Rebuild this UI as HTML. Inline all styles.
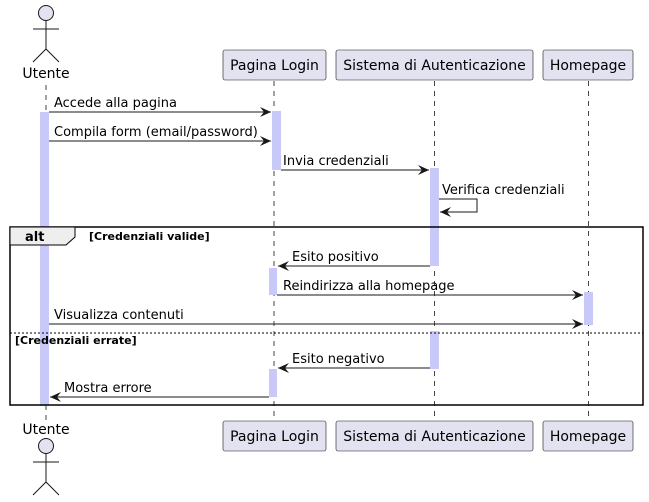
<!DOCTYPE html>
<html><head><meta charset="utf-8"><style>html,body{margin:0;padding:0;background:#fff}svg{display:block}</style></head>
<body>
<svg width="649" height="502" viewBox="0 0 649 502" xmlns="http://www.w3.org/2000/svg" font-family="DejaVu Sans, sans-serif">
<defs>
<marker id="a" markerWidth="12" markerHeight="10" refX="11" refY="5" orient="auto" markerUnits="userSpaceOnUse">
<path d="M0,0 L11,5 L0,10 L4,5 Z" fill="#181818"/>
</marker>
</defs>
<g stroke="#181818" stroke-width="0.8" stroke-dasharray="5,5">
<line x1="46" y1="85" x2="46" y2="420"/>
<line x1="274" y1="81" x2="274" y2="420"/>
<line x1="434.5" y1="81" x2="434.5" y2="420"/>
<line x1="588.5" y1="81" x2="588.5" y2="420"/>
</g>
<g fill="#c8c9f8">
<rect x="40" y="112" width="9" height="294"/>
<rect x="272" y="111" width="9" height="59"/>
<rect x="430" y="168" width="9" height="98"/>
<rect x="269" y="268" width="8" height="27"/>
<rect x="584" y="292" width="9" height="33"/>
<rect x="430" y="331" width="9" height="38"/>
<rect x="269" y="369" width="8" height="28"/>
</g>
<g fill="#e2e2f0" stroke="#181818" stroke-width="1">
<circle cx="46" cy="13" r="7.5"/>
<circle cx="46" cy="446" r="7.5"/>
</g>
<g stroke="#181818" stroke-width="1" fill="none">
<path d="M46,21 V49 M33,29 H59 M33,62 L46,49 L59,62"/>
<path d="M46,454 V482 M33,462 H59 M33,495 L46,482 L59,495"/>
</g>
<g font-size="14" fill="#000">
<text x="46" y="78" text-anchor="middle">Utente</text>
<text x="46" y="434" text-anchor="middle">Utente</text>
</g>
<g fill="#e2e2f0" stroke="#181818" stroke-width="0.6">
<rect x="223" y="50" width="103" height="30" rx="2"/>
<rect x="336" y="50" width="197" height="30" rx="2"/>
<rect x="543" y="50" width="90" height="30" rx="2"/>
<rect x="223" y="421" width="103" height="30" rx="2"/>
<rect x="336" y="421" width="197" height="30" rx="2"/>
<rect x="543" y="421" width="90" height="30" rx="2"/>
</g>
<g font-size="14" fill="#000" text-anchor="middle">
<text x="274.5" y="70">Pagina Login</text>
<text x="434.5" y="70">Sistema di Autenticazione</text>
<text x="588" y="70">Homepage</text>
<text x="274.5" y="441">Pagina Login</text>
<text x="434.5" y="441">Sistema di Autenticazione</text>
<text x="588" y="441">Homepage</text>
</g>
<g stroke="#181818" stroke-width="1" fill="none" marker-end="url(#a)">
<line x1="49" y1="112" x2="271" y2="112"/>
<line x1="49" y1="141" x2="271" y2="141"/>
<line x1="281" y1="170" x2="429" y2="170"/>
<polyline points="439,199 477,199 477,212 440,212"/>
<line x1="430" y1="266" x2="278" y2="266"/>
<line x1="277" y1="295" x2="583" y2="295"/>
<line x1="49" y1="324" x2="583" y2="324"/>
<line x1="430" y1="368" x2="278" y2="368"/>
<line x1="269" y1="397" x2="50" y2="397"/>
</g>
<g font-size="13" fill="#000">
<text x="54" y="107">Accede alla pagina</text>
<text x="54" y="136">Compila form (email/password)</text>
<text x="283" y="165">Invia credenziali</text>
<text x="442" y="194">Verifica credenziali</text>
<text x="292" y="261">Esito positivo</text>
<text x="283" y="290">Reindirizza alla homepage</text>
<text x="54" y="319">Visualizza contenuti</text>
<text x="292" y="363">Esito negativo</text>
<text x="64" y="392">Mostra errore</text>
</g>
<rect x="10" y="227" width="633" height="178" fill="none" stroke="#000" stroke-width="1.5"/>
<path d="M10,227 H75 V237 L66,245 H10 Z" fill="#eeeeee" stroke="#000" stroke-width="1"/>
<line x1="10" y1="333" x2="643" y2="333" stroke="#000" stroke-width="1" stroke-dasharray="2,2"/>
<text x="25" y="241" font-size="13" font-weight="bold">alt</text>
<text x="89" y="240" font-size="11" font-weight="bold">[Credenziali valide]</text>
<text x="15" y="344" font-size="11" font-weight="bold">[Credenziali errate]</text>
</svg>
</body></html>
